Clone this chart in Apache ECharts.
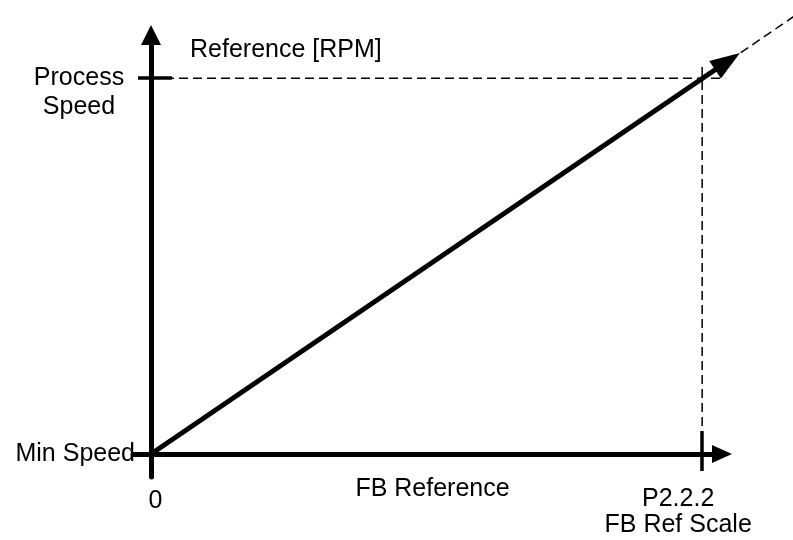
<!DOCTYPE html>
<html><head><meta charset="utf-8">
<script src="https://cdn.jsdelivr.net/npm/echarts@6/dist/echarts.min.js"></script>
<style>html,body{margin:0;padding:0;background:#fff}#c{width:793px;height:540px}</style>
</head><body><div id="c"></div>
<script>
// ---- data ----
const xTickValues = [0, 1];
const xTickLabels = ['0', 'P2.2.2\nFB Ref Scale'];
const yTickValues = [0, 1];
const yTickLabels = ['Min Speed', 'Process\nSpeed'];
const xAxisName = 'FB Reference';
const yAxisName = 'Reference [RPM]';
// reference ramp (min speed at 0 -> process speed at scale), drawn with arrow head
const rampX = [0, 1.046];
const rampY = [0, 1.045];
// dashed continuation beyond the arrow
const extX = [1.07, 1.17];
const extY = [1.068, 1.168];
// dashed guide lines
const guideHX = [0, 1.042];
const guideHY = [1, 1];
const guideVX = [1, 1];
const guideVY = [0, 1.043];

const FONT = 'Liberation Sans, Arial, sans-serif';
const BLACK = '#000';
const X_MIN = -0.0327, X_MAX = 1.036, Y_MIN = -0.0612, Y_MAX = 1.115;
const W = 793, H = 540, GL = 133, GR = 71, GT = 35, GB = 63;
// an invisible full-canvas grid sharing the same scale, so marks outside the axes box are not clipped
const SX = (W - GL - GR) / (X_MAX - X_MIN), SY = (H - GT - GB) / (Y_MAX - Y_MIN);
const FX_MIN = X_MIN - GL / SX, FX_MAX = X_MAX + GR / SX;
const FY_MIN = Y_MIN - GB / SY, FY_MAX = Y_MAX + GT / SY;

function pairs(xs, ys) { return xs.map((x, i) => [x, ys[i]]); }

const rampData = pairs(rampX, rampY).map((p, i, arr) => i === arr.length - 1
  ? { value: p, symbol: 'triangle', symbolSize: [21, 30], symbolRotate: -56, itemStyle: { color: BLACK } }
  : { value: p, symbol: 'none' });

function xLabelFmt(v) {
  const i = xTickValues.indexOf(v);
  if (i < 0) return '';
  const key = i === 0 ? 'z' : 'p';
  return xTickLabels[i].split('\n').map(s => '{' + key + '|' + s + '}').join('\n');
}
function yLabelFmt(v) {
  const i = yTickValues.indexOf(v);
  if (i < 0) return '';
  const lines = yTickLabels[i].split('\n');
  if (lines.length === 1) return '{m|' + lines[0] + '}';
  return ['{c| }'].concat(lines.map(s => '{c|' + s + '}')).join('\n');
}

const chart = echarts.init(document.getElementById('c'), null, { renderer: 'canvas' });
chart.setOption({
  animation: false,
  backgroundColor: '#fff',
  textStyle: { fontFamily: FONT, color: BLACK },
  grid: [
    { left: GL, right: GR, top: GT, bottom: GB, containLabel: false, outerBoundsMode: 'none' },
    { left: 0, right: 0, top: 0, bottom: 0, containLabel: false, outerBoundsMode: 'none' }
  ],
  xAxis: [{
    type: 'value', gridIndex: 0, min: X_MIN, max: X_MAX, position: 'bottom',
    name: xAxisName, nameLocation: 'middle', nameGap: 12.5, nameMoveOverlap: false,
    nameTextStyle: { fontFamily: FONT, fontSize: 25, color: BLACK, verticalAlign: 'middle', align: 'center', padding: [0, 0, 0, 10] },
    axisLine: { show: true, onZero: true, onZeroAxisIndex: 0, symbol: ['none', 'triangle'], symbolSize: [18, 20], lineStyle: { color: BLACK, width: 5 } },
    axisTick: { show: true, customValues: [xTickValues[1]], inside: false, length: 17, lineStyle: { color: BLACK, width: 3.5 } },
    axisLabel: {
      show: true, customValues: xTickValues, margin: 9, formatter: xLabelFmt,
      rich: {
        z: { fontFamily: FONT, fontSize: 25, color: BLACK, padding: [3, 0, 0, 9] },
        p: { fontFamily: FONT, fontSize: 25, color: BLACK, lineHeight: 26, padding: [0, 48, 0, 0] }
      }
    },
    splitLine: { show: false }
  }, {
    type: 'value', gridIndex: 0, min: X_MIN, max: X_MAX, position: 'bottom',
    axisLine: { show: false, onZero: true, onZeroAxisIndex: 0 },
    axisTick: { show: true, customValues: [xTickValues[1]], inside: true, length: 23, lineStyle: { color: BLACK, width: 3.5 } },
    axisLabel: { show: false },
    splitLine: { show: false }
  }, {
    type: 'value', gridIndex: 1, min: FX_MIN, max: FX_MAX, show: false
  }],
  yAxis: [{
    type: 'value', gridIndex: 0, min: Y_MIN, max: Y_MAX, position: 'left',
    name: yAxisName, nameLocation: 'end', nameGap: -15.5, nameMoveOverlap: false,
    nameTextStyle: { fontFamily: FONT, fontSize: 25, color: BLACK, align: 'left', verticalAlign: 'middle', padding: [0, 0, 0, 39] },
    axisLine: { show: true, onZero: true, onZeroAxisIndex: 0, symbol: ['none', 'triangle'], symbolSize: [20, 20], lineStyle: { color: BLACK, width: 5 } },
    axisTick: { show: true, customValues: [yTickValues[1]], inside: false, length: 13, lineStyle: { color: BLACK, width: 3.5 } },
    axisLabel: {
      show: true, customValues: yTickValues, margin: -2, formatter: yLabelFmt,
      rich: {
        m: { fontFamily: FONT, fontSize: 25, color: BLACK },
        c: { fontFamily: FONT, fontSize: 25, color: BLACK, width: 112, align: 'center', lineHeight: 29 }
      }
    },
    splitLine: { show: false }
  }, {
    type: 'value', gridIndex: 0, min: Y_MIN, max: Y_MAX, position: 'left',
    axisLine: { show: false, onZero: true, onZeroAxisIndex: 0 },
    axisTick: { show: true, customValues: [yTickValues[1]], inside: true, length: 21, lineStyle: { color: BLACK, width: 3.5 } },
    axisLabel: { show: false },
    splitLine: { show: false }
  }, {
    type: 'value', gridIndex: 1, min: FY_MIN, max: FY_MAX, show: false
  }],
  series: [
    { type: 'line', name: 'guideH', xAxisIndex: 2, yAxisIndex: 2, data: pairs(guideHX, guideHY), showSymbol: false, symbol: 'none', silent: true,
      lineStyle: { color: BLACK, width: 1.5, type: [9, 5] }, z: 1 },
    { type: 'line', name: 'guideV', xAxisIndex: 2, yAxisIndex: 2, data: pairs(guideVX, guideVY), showSymbol: false, symbol: 'none', silent: true,
      lineStyle: { color: BLACK, width: 1.5, type: [9, 5] }, z: 1 },
    { type: 'line', name: 'ext', xAxisIndex: 2, yAxisIndex: 2, data: pairs(extX, extY), showSymbol: false, symbol: 'none', silent: true,
      lineStyle: { color: BLACK, width: 1.5, type: [9, 5] }, z: 1 },
    { type: 'line', name: 'ramp', xAxisIndex: 0, yAxisIndex: 0, data: rampData, showSymbol: true, showAllSymbol: true, clip: false, silent: true,
      lineStyle: { color: BLACK, width: 5 }, itemStyle: { color: BLACK }, z: 3 }
  ]
});
</script>
</body></html>
